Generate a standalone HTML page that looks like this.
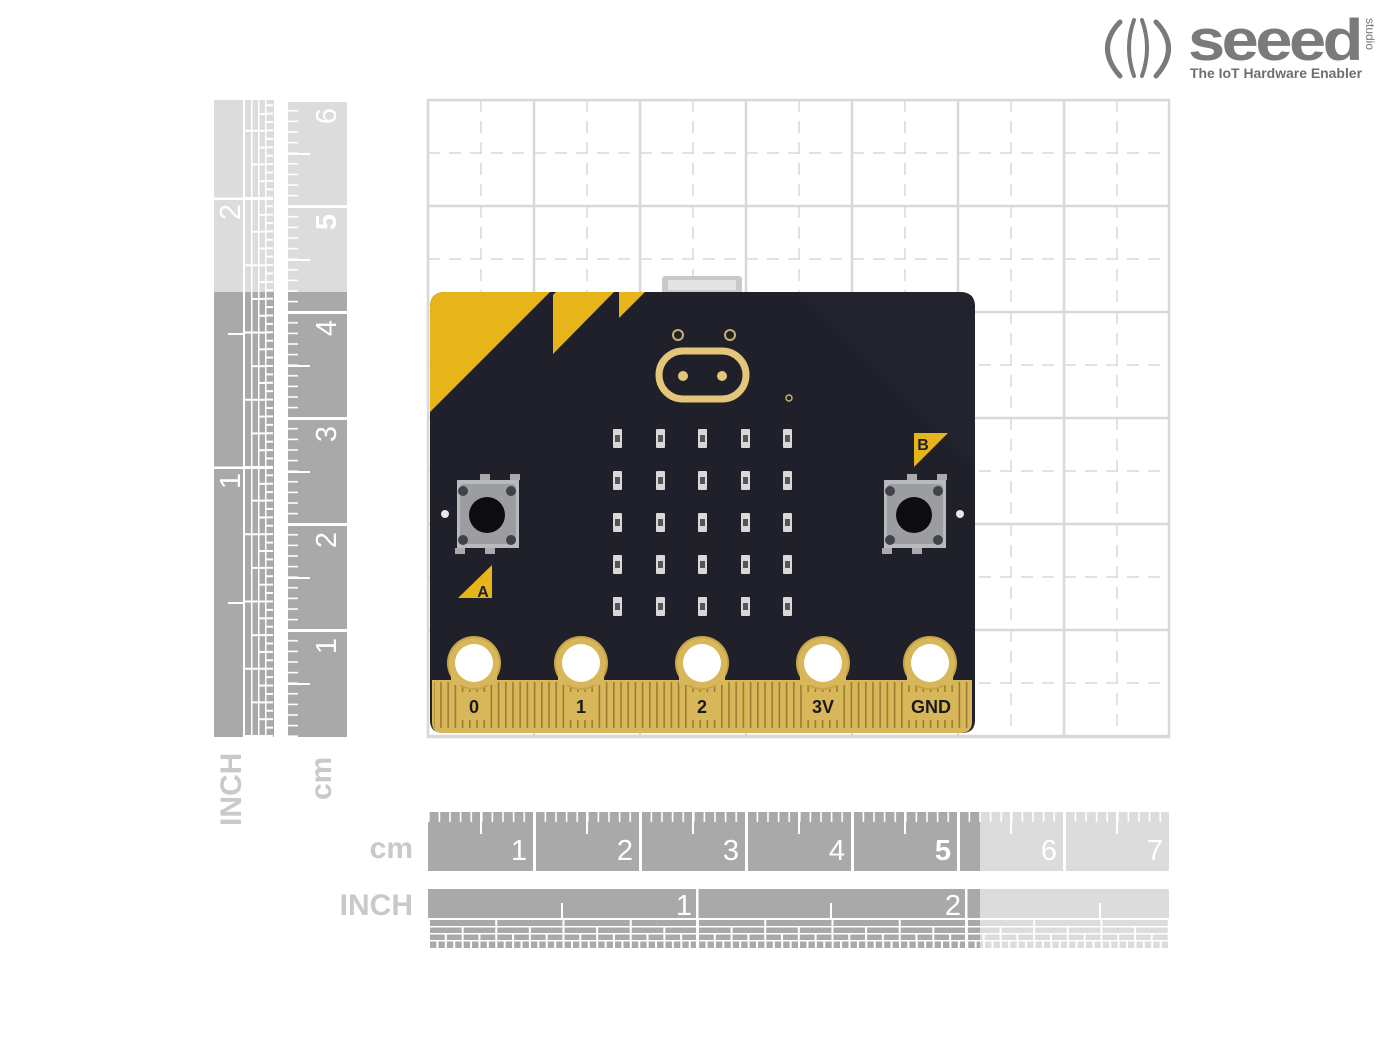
<!DOCTYPE html>
<html><head><meta charset="utf-8"><style>
html,body{margin:0;padding:0;background:#fff;}
svg{display:block;font-family:"Liberation Sans",sans-serif;}
</style></head><body>
<svg width="1400" height="1050" viewBox="0 0 1400 1050" xmlns="http://www.w3.org/2000/svg">
<defs>
  <pattern id="mm" patternUnits="userSpaceOnUse" x="428" y="0" width="10.6" height="2000"><rect x="0" y="0" width="1.6" height="2000" fill="#fff"/></pattern>
  <pattern id="r1" patternUnits="userSpaceOnUse" x="428" y="0" width="67.25" height="2000"><rect x="0" y="0" width="2" height="2000" fill="#fff"/></pattern>
  <pattern id="r2" patternUnits="userSpaceOnUse" x="428" y="0" width="33.62" height="2000"><rect x="0" y="0" width="2" height="2000" fill="#fff"/></pattern>
  <pattern id="r3" patternUnits="userSpaceOnUse" x="428" y="0" width="16.81" height="2000"><rect x="0" y="0" width="2" height="2000" fill="#fff"/></pattern>
  <pattern id="r4" patternUnits="userSpaceOnUse" x="428" y="0" width="8.41" height="2000"><rect x="0" y="0" width="2" height="2000" fill="#fff"/></pattern>
  <pattern id="fing" patternUnits="userSpaceOnUse" x="433" y="0" width="7.2" height="2000"><rect x="0" y="0" width="1.6" height="2000" fill="#9a7d30"/></pattern>
  <pattern id="grid" patternUnits="userSpaceOnUse" x="428" y="100" width="106" height="106">
    <line x1="53" y1="0" x2="53" y2="106" stroke="#d8d8d8" stroke-width="1.5" stroke-dasharray="12,9"/>
    <line x1="0" y1="53" x2="106" y2="53" stroke="#d8d8d8" stroke-width="1.5" stroke-dasharray="12,9"/>
    <rect x="0" y="0" width="106" height="106" fill="none" stroke="#d8d8d8" stroke-width="2.5"/>
  </pattern>
  <g id="cmticks">
    <rect x="428" y="812" width="741" height="10" fill="url(#mm)"/>
    <g fill="#fff">
      <rect x="480" y="812" width="2" height="22"/><rect x="586" y="812" width="2" height="22"/><rect x="692" y="812" width="2" height="22"/><rect x="798" y="812" width="2" height="22"/><rect x="904" y="812" width="2" height="22"/><rect x="1010" y="812" width="2" height="22"/><rect x="1116" y="812" width="2" height="22"/>
      <rect x="533" y="812" width="3" height="59"/><rect x="639" y="812" width="3" height="59"/><rect x="745" y="812" width="3" height="59"/><rect x="851" y="812" width="3" height="59"/><rect x="957" y="812" width="3" height="59"/><rect x="1063" y="812" width="3" height="59"/>
    </g>
    <g fill="#fff" font-size="29" text-anchor="end">
      <text x="527" y="860">1</text><text x="633" y="860">2</text><text x="739" y="860">3</text><text x="845" y="860">4</text><text x="951" y="860" font-weight="bold">5</text><text x="1057" y="860">6</text><text x="1163" y="860">7</text>
    </g>
  </g>
  <g id="inticks">
    <g fill="#fff">
      <rect x="428" y="918" width="741" height="2"/><rect x="428" y="926" width="741" height="1.5"/><rect x="428" y="933" width="741" height="1.5"/><rect x="428" y="940" width="741" height="1.5"/>
      <rect x="428" y="920" width="741" height="6" fill="url(#r1)"/>
      <rect x="428" y="927" width="741" height="6" fill="url(#r2)"/>
      <rect x="428" y="934" width="741" height="6" fill="url(#r3)"/>
      <rect x="428" y="941" width="741" height="7" fill="url(#r4)"/>
      <rect x="696" y="889" width="2.5" height="59"/><rect x="965" y="889" width="2.5" height="59"/>
      <rect x="561" y="903" width="2" height="15"/><rect x="830" y="903" width="2" height="15"/><rect x="1099" y="903" width="2" height="15"/>
    </g>
    <g fill="#fff" font-size="29" text-anchor="end">
      <text x="692" y="915">1</text><text x="961" y="915">2</text>
    </g>
  </g>
  <clipPath id="vclip"><rect x="200" y="100" width="160" height="637"/></clipPath>
</defs>

<rect x="428" y="100" width="741" height="637" fill="url(#grid)"/>
<rect x="428" y="100" width="741" height="637" fill="none" stroke="#d8d8d8" stroke-width="2.5"/>

<rect x="428" y="812" width="552" height="59" fill="#a8a9a8"/>
<rect x="980" y="812" width="189" height="59" fill="#dcdcdc"/>
<use href="#cmticks"/>
<rect x="428" y="889" width="552" height="59" fill="#a8a9a8"/>
<rect x="980" y="889" width="189" height="59" fill="#dcdcdc"/>
<use href="#inticks"/>
<g fill="#c9c9c9" font-weight="bold" font-size="30" text-anchor="end">
  <text x="413" y="858">cm</text><text x="413" y="915">INCH</text>
</g>

<rect x="288" y="100" width="59" height="192" fill="#dcdcdc"/>
<rect x="288" y="292" width="59" height="445" fill="#a8a9a8"/>
<rect x="214" y="100" width="60" height="192" fill="#dcdcdc"/>
<rect x="214" y="292" width="60" height="445" fill="#a8a9a8"/>
<g clip-path="url(#vclip)">
  <use href="#cmticks" transform="translate(-524,1165) rotate(-90)"/>
  <use href="#inticks" transform="translate(-675,1165) rotate(-90)"/>
</g>
<g fill="#c9c9c9" font-weight="bold" font-size="30">
  <text transform="translate(241,826) rotate(-90)">INCH</text>
  <text transform="translate(331,800) rotate(-90)">cm</text>
</g>

<!-- board -->
<rect x="662" y="276" width="80" height="20" rx="3" fill="#c9c9cc"/>
<rect x="668" y="280" width="68" height="10" fill="#e4e4e6"/>
<path d="M445,292 H960 Q975,292 975,307 V720 Q975,733 962,733 H443 Q430,733 430,720 V307 Q430,292 445,292 Z" fill="#1f2029"/>
<path d="M800,292 L975,467 V307 Q975,292 960,292 Z" fill="#22232c"/>
<path d="M445,292 H550 L430,412 V307 Q430,292 445,292 Z" fill="#e7b41a"/>
<path d="M556,292 H614 L553,354 V295 Z" fill="#e7b41a"/>
<path d="M619,292 H645 L619,318 Z" fill="#e7b41a"/>
<circle cx="678" cy="335" r="5" fill="none" stroke="#c8b070" stroke-width="2"/>
<circle cx="730" cy="335" r="5" fill="none" stroke="#c8b070" stroke-width="2"/>
<circle cx="789" cy="398" r="3" fill="none" stroke="#c8b070" stroke-width="1.5"/>
<rect x="659" y="351" width="87" height="48" rx="24" fill="none" stroke="#e4c67a" stroke-width="7"/>
<circle cx="683" cy="376" r="5" fill="#e4c67a"/><circle cx="722" cy="376" r="5" fill="#e4c67a"/>
<g fill="#d8d8d8">
<g id="ledrow">
<rect x="613" y="429" width="9" height="19" rx="1"/><rect x="656" y="429" width="9" height="19" rx="1"/><rect x="698" y="429" width="9" height="19" rx="1"/><rect x="741" y="429" width="9" height="19" rx="1"/><rect x="783" y="429" width="9" height="19" rx="1"/>
</g>
<use href="#ledrow" y="42"/><use href="#ledrow" y="84"/><use href="#ledrow" y="126"/><use href="#ledrow" y="168"/>
</g>
<g fill="#555">
<g id="ledc">
<rect x="615" y="435" width="5" height="7"/><rect x="658" y="435" width="5" height="7"/><rect x="700" y="435" width="5" height="7"/><rect x="743" y="435" width="5" height="7"/><rect x="785" y="435" width="5" height="7"/>
</g>
<use href="#ledc" y="42"/><use href="#ledc" y="84"/><use href="#ledc" y="126"/><use href="#ledc" y="168"/>
</g>
<g id="btn">
<rect x="457" y="480" width="62" height="68" fill="#b9babd"/>
<rect x="460" y="484" width="56" height="60" rx="4" fill="#9c9da1"/>
<circle cx="487" cy="515" r="18" fill="#0d0d10"/>
<circle cx="463" cy="491" r="5" fill="#40414a"/><circle cx="511" cy="491" r="5" fill="#40414a"/>
<circle cx="463" cy="540" r="5" fill="#40414a"/><circle cx="511" cy="540" r="5" fill="#40414a"/>
<rect x="480" y="474" width="10" height="6" fill="#aaa"/><rect x="510" y="474" width="10" height="6" fill="#aaa"/>
<rect x="455" y="548" width="10" height="6" fill="#aaa"/><rect x="485" y="548" width="10" height="6" fill="#aaa"/>
</g>
<use href="#btn" x="427"/>
<circle cx="445" cy="514" r="4" fill="#e8e8e8"/><circle cx="960" cy="514" r="4" fill="#e8e8e8"/>
<path d="M458,598 H492 V565 Z" fill="#e7b41a"/>
<text x="483" y="597" font-size="16" font-weight="bold" fill="#1f2029" text-anchor="middle">A</text>
<path d="M914,433 H948 L914,467 Z" fill="#e7b41a"/>
<text x="923" y="450" font-size="16" font-weight="bold" fill="#1f2029" text-anchor="middle">B</text>
<path d="M432,680 H972 V722 Q972,733 960,733 H442 Q432,733 432,722 Z" fill="#d8b65a"/>
<rect x="434" y="682" width="536" height="46" fill="url(#fing)"/>
<g fill="#c7a445">
<circle cx="474" cy="663" r="27"/><circle cx="581" cy="663" r="27"/><circle cx="702" cy="663" r="27"/><circle cx="823" cy="663" r="27"/><circle cx="930" cy="663" r="27"/>
</g>
<g fill="#d8b65a">
<circle cx="474" cy="663" r="25"/><circle cx="581" cy="663" r="25"/><circle cx="702" cy="663" r="25"/><circle cx="823" cy="663" r="25"/><circle cx="930" cy="663" r="25"/>
<rect x="451" y="663" width="46" height="22"/><rect x="558" y="663" width="46" height="22"/><rect x="679" y="663" width="46" height="22"/><rect x="800" y="663" width="46" height="22"/><rect x="907" y="663" width="46" height="22"/>
<rect x="460" y="692" width="28" height="28"/><rect x="567" y="692" width="28" height="28"/><rect x="688" y="692" width="28" height="28"/><rect x="805" y="692" width="36" height="28"/><rect x="905" y="692" width="52" height="28"/>
</g>
<g fill="#fff">
<circle cx="474" cy="663" r="19"/><circle cx="581" cy="663" r="19"/><circle cx="702" cy="663" r="19"/><circle cx="823" cy="663" r="19"/><circle cx="930" cy="663" r="19"/>
</g>
<g font-size="18" font-weight="bold" fill="#1a1a1a" text-anchor="middle">
<text x="474" y="713">0</text><text x="581" y="713">1</text><text x="702" y="713">2</text><text x="823" y="713">3V</text><text x="931" y="713">GND</text>
</g>

<g fill="none" stroke="#7a7a7a" stroke-linecap="round">
<path d="M1120,22 Q1095,48 1120,76" stroke-width="5"/>
<path d="M1156,22 Q1181,48 1156,76" stroke-width="5"/>
<path d="M1134,20 Q1124,48 1134,76" stroke-width="4"/>
<path d="M1142,20 Q1152,48 1142,76" stroke-width="4"/>
</g>
<text x="1188" y="60" font-size="58" font-weight="bold" fill="#7a7a7a" letter-spacing="-3" textLength="172" lengthAdjust="spacingAndGlyphs">seeed</text>
<text transform="translate(1366,18) rotate(90)" font-size="12" fill="#7a7a7a">studio</text>
<text x="1190" y="78" font-size="14" font-weight="bold" fill="#6e6e6e" textLength="172" lengthAdjust="spacingAndGlyphs">The IoT Hardware Enabler</text>
</svg>
</body></html>
